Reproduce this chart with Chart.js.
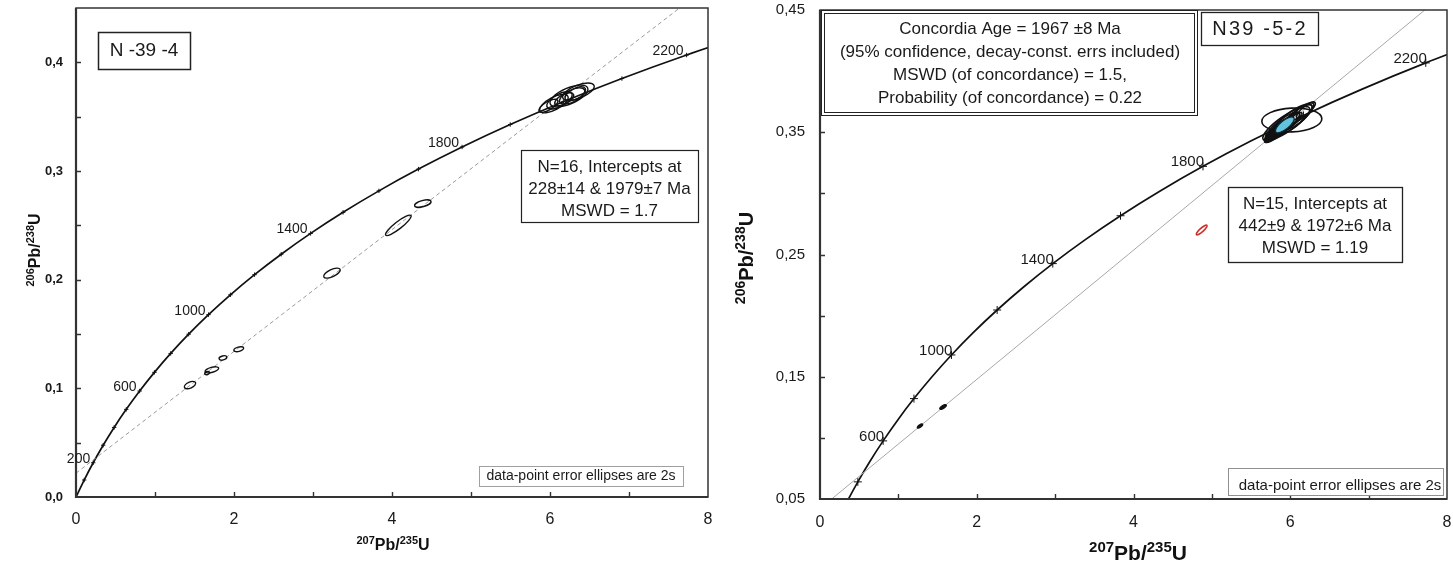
<!DOCTYPE html>
<html>
<head>
<meta charset="utf-8">
<script src="https://cdn.jsdelivr.net/npm/chart.js@4.4.1/dist/chart.umd.min.js"></script>
<style>
  html, body { margin: 0; padding: 0; background: #fff; }
  #wrap { position: relative; width: 1453px; height: 563px; overflow: hidden; }
  #c1 { position: absolute; left: 0; top: 0; }
  #c2 { position: absolute; left: 720px; top: 0; }
</style>
</head>
<body>
<div id="wrap">
  <canvas id="c1" width="720" height="563"></canvas>
  <canvas id="c2" width="733" height="563"></canvas>
</div>
<script>
// ---- Concordia (207Pb/235U, 206Pb/238U) every 100 Ma ----
const concordiaAge = [0, 100, 200, 300, 400, 500, 600, 700, 800, 900, 1000, 1100,
  1200, 1300, 1400, 1500, 1600, 1700, 1800, 1900, 2000, 2100, 2200, 2300];
const concordiaX = [0, 0.1035, 0.2177, 0.3437, 0.4828, 0.6363, 0.8056, 0.9925, 1.1987,
  1.4263, 1.6774, 1.9545, 2.2603, 2.5977, 2.9701, 3.3810, 3.8344, 4.3348, 4.8869,
  5.4962, 6.1685, 6.9105, 7.7292, 8.6326];
const concordiaY = [0, 0.01563, 0.03151, 0.04764, 0.06402, 0.08065, 0.09754, 0.11470,
  0.13213, 0.14983, 0.16781, 0.18606, 0.20460, 0.22343, 0.24256, 0.26198, 0.28171,
  0.30175, 0.32210, 0.34277, 0.36376, 0.38508, 0.40673, 0.42872];

// age marks and labelled ages on each panel
const leftMarkAges = [100, 200, 300, 400, 500, 600, 700, 800, 900, 1000, 1100, 1200,
  1300, 1400, 1500, 1600, 1700, 1800, 1900, 2000, 2100, 2200];
const leftLabelAges = [200, 600, 1000, 1400, 1800, 2200];
const rightMarkAges = [400, 600, 800, 1000, 1200, 1400, 1600, 1800, 2000, 2200];
const rightLabelAges = [600, 1000, 1400, 1800, 2200];

// ---- Discordia lines (end points) ----
const leftDiscordiaX = [0, 7.64];
const leftDiscordiaY = [0.0219, 0.45];
const rightDiscordiaX = [0.149, 7.717];
const rightDiscordiaY = [0.05, 0.45];

// ---- Sample N-39-4 analyses: centre, 2s errors, error correlation ----
const leftX   = [1.443, 1.66, 1.72, 1.86, 2.06, 3.24, 4.08, 4.39,
                 5.98, 6.05, 6.12, 6.18, 6.24, 6.28, 6.32, 6.36];
const leftY   = [0.103, 0.114, 0.117, 0.128, 0.136, 0.206, 0.250, 0.270,
                 0.360, 0.362, 0.365, 0.366, 0.369, 0.369, 0.371, 0.373];
const leftSX  = [0.071, 0.030, 0.086, 0.049, 0.062, 0.105, 0.162, 0.104,
                 0.12, 0.18, 0.16, 0.12, 0.24, 0.16, 0.13, 0.20];
const leftSY  = [0.0034, 0.0015, 0.0028, 0.0020, 0.0023, 0.0046, 0.0094, 0.0034,
                 0.0060, 0.0085, 0.0080, 0.0060, 0.0100, 0.0075, 0.0065, 0.0080];
const leftRho = [0.50, 0.30, 0.52, 0.35, 0.42, 0.64, 0.90, 0.53,
                 0.70, 0.65, 0.62, 0.60, 0.62, 0.60, 0.58, 0.60];

// ---- Sample N39-5-2 analyses ----
const rightX   = [6.02, 5.95, 6.02, 5.90, 6.08, 6.15, 5.98, 6.05, 6.20];
const rightY   = [0.360, 0.357, 0.360, 0.355, 0.362, 0.366, 0.358, 0.360, 0.368];
const rightSX  = [0.383, 0.30, 0.26, 0.22, 0.20, 0.15, 0.14, 0.10, 0.12];
const rightSY  = [0.0098, 0.0140, 0.0130, 0.0115, 0.0105, 0.0082, 0.0080, 0.0062, 0.0068];
const rightRho = [0.10, 0.84, 0.82, 0.84, 0.82, 0.80, 0.84, 0.80, 0.80];
// small, densely drawn analyses
const rightDarkX   = [1.276, 1.57, 5.85, 5.80, 5.75];
const rightDarkY   = [0.1097, 0.1253, 0.352, 0.350, 0.347];
const rightDarkSX  = [0.035, 0.042, 0.18, 0.12, 0.08];
const rightDarkSY  = [0.0017, 0.0020, 0.0105, 0.0075, 0.0055];
const rightDarkRho = [0.70, 0.70, 0.85, 0.84, 0.82];
// analysis left out of the regression
const rejectedX = [4.87], rejectedY = [0.270], rejectedSX = [0.068], rejectedSY = [0.0040], rejectedRho = [0.875];
// concordia age ellipse
const meanX = [5.93], meanY = [0.356], meanSX = [0.12], meanSY = [0.0065], meanRho = [0.75];

const FAM = '"Liberation Sans", Arial, Helvetica, sans-serif';
Chart.defaults.font.family = FAM;

function pts(xs, ys) { return xs.map((x, i) => ({ x: x, y: ys[i] })); }
function agePts(list) {
  return list.map(a => { const i = concordiaAge.indexOf(a); return { x: concordiaX[i], y: concordiaY[i], age: a }; });
}
function ellipses(xs, ys, sxs, sys, rhos) {
  return xs.map((x, i) => ({ x: x, y: ys[i], sx: sxs[i], sy: sys[i], rho: rhos[i] }));
}

// draw an error ellipse, converting data-space covariance to pixel space
function drawEllipse(ctx, xs, ys, e, style) {
  const px = xs.getPixelForValue(e.x), py = ys.getPixelForValue(e.y);
  const kx = xs.getPixelForValue(1) - xs.getPixelForValue(0);
  const ky = ys.getPixelForValue(1) - ys.getPixelForValue(0);
  const cxx = Math.pow(e.sx * kx, 2), cyy = Math.pow(e.sy * ky, 2);
  const cxy = e.rho * e.sx * e.sy * kx * ky;
  const m = (cxx + cyy) / 2, d = Math.sqrt(Math.pow((cxx - cyy) / 2, 2) + cxy * cxy);
  const a = Math.sqrt(m + d), b = Math.sqrt(Math.max(m - d, 0.2));
  const th = 0.5 * Math.atan2(2 * cxy, cxx - cyy);
  ctx.beginPath();
  ctx.ellipse(px, py, a, b, th, 0, Math.PI * 2);
  if (style.fill) { ctx.fillStyle = style.fill; ctx.fill(); }
  ctx.lineWidth = style.width || 1.3;
  ctx.strokeStyle = style.stroke || '#111';
  ctx.stroke();
}

// text with superscript pieces
function richText(ctx, parts, x, y, size, supSize) {
  let w = 0;
  parts.forEach(p => {
    ctx.font = 'bold ' + (p.sup ? supSize : size) + 'px ' + FAM;
    p.w = ctx.measureText(p.t).width; w += p.w;
  });
  let cx = x - w / 2;
  ctx.textAlign = 'left';
  ctx.textBaseline = 'alphabetic';
  parts.forEach(p => {
    ctx.font = 'bold ' + (p.sup ? supSize : size) + 'px ' + FAM;
    ctx.fillText(p.t, cx, p.sup ? y - size * 0.38 : y);
    cx += p.w;
  });
}

function box(ctx, b) {
  ctx.save();
  ctx.fillStyle = '#fff';
  ctx.fillRect(b.x, b.y, b.w, b.h);
  ctx.strokeStyle = b.stroke || '#222';
  ctx.lineWidth = b.lw || 1.2;
  ctx.strokeRect(b.x + 0.5, b.y + 0.5, b.w, b.h);
  if (b.double) ctx.strokeRect(b.x + 3.5, b.y + 3.5, b.w - 6, b.h - 6);
  ctx.fillStyle = '#1a1a1a';
  ctx.font = b.font;
  ctx.textAlign = 'center';
  ctx.textBaseline = 'middle';
  if (b.spacing) ctx.letterSpacing = b.spacing;
  b.lines.forEach((t, i) => ctx.fillText(t, b.cx, b.ly[i]));
  ctx.restore();
}

function makePanel(id, cfg) {
  const overlay = {
    id: 'overlay' + id,
    afterDatasetsDraw(chart) {
      const ctx = chart.ctx, ca = chart.chartArea;
      const xs = chart.scales.x, ys = chart.scales.y;
      ctx.save();
      ctx.beginPath(); ctx.rect(ca.left, ca.top, ca.right - ca.left, ca.bottom - ca.top); ctx.clip();
      cfg.ellipseGroups.forEach(g => g.items.forEach(e => drawEllipse(ctx, xs, ys, e, g.style)));
      ctx.restore();
    },
    afterDraw(chart) {
      const ctx = chart.ctx, ca = chart.chartArea;
      const xs = chart.scales.x, ys = chart.scales.y;
      ctx.save();
      // frame
      ctx.strokeStyle = '#333';
      ctx.lineWidth = 1.5;
      ctx.strokeRect(ca.left, ca.top, ca.right - ca.left, ca.bottom - ca.top);
      ctx.lineWidth = 2.2;
      ctx.beginPath();
      ctx.moveTo(ca.left, ca.top); ctx.lineTo(ca.left, ca.bottom); ctx.lineTo(ca.right, ca.bottom);
      ctx.stroke();
      // inward tick marks
      ctx.lineWidth = 1.4;
      ctx.beginPath();
      xs.ticks.forEach(t => {
        const p = Math.round(xs.getPixelForValue(t.value)) + 0.5;
        if (p > ca.left + 2 && p < ca.right - 2) { ctx.moveTo(p, ca.bottom); ctx.lineTo(p, ca.bottom - 5); }
      });
      ys.ticks.forEach(t => {
        const p = Math.round(ys.getPixelForValue(t.value)) + 0.5;
        if (p > ca.top + 2 && p < ca.bottom - 2) { ctx.moveTo(ca.left, p); ctx.lineTo(ca.left + 5, p); }
      });
      ctx.stroke();
      // age labels along the concordia
      ctx.fillStyle = '#1a1a1a';
      ctx.font = cfg.ageFont;
      ctx.textAlign = 'right';
      ctx.textBaseline = 'middle';
      agePts(cfg.labelAges).forEach(p => {
        ctx.fillText(String(p.age), xs.getPixelForValue(p.x) + cfg.ageDx, ys.getPixelForValue(p.y) - 4);
      });
      // annotation boxes
      cfg.boxes.forEach(b => box(ctx, b));
      // axis titles
      ctx.fillStyle = '#111';
      richText(ctx, [{ t: '207', sup: true }, { t: 'Pb/' }, { t: '235', sup: true }, { t: 'U' }],
        cfg.xTitle.x, cfg.xTitle.y, cfg.xTitle.size, cfg.xTitle.sup);
      ctx.save();
      ctx.translate(cfg.yTitle.x, cfg.yTitle.y);
      ctx.rotate(-Math.PI / 2);
      richText(ctx, [{ t: '206', sup: true }, { t: 'Pb/' }, { t: '238', sup: true }, { t: 'U' }],
        0, 0, cfg.yTitle.size, cfg.yTitle.sup);
      ctx.restore();
      ctx.restore();
    }
  };

  // fixed scale sizes, no extra room reserved for overhanging edge labels
  function fixX(s) { s.height = cfg.xH; s.paddingLeft = 0; s.paddingRight = 0; s.paddingTop = 0; s.paddingBottom = 0; }
  function fixY(s) { s.width = cfg.yW; s.paddingLeft = 0; s.paddingRight = 0; s.paddingTop = 0; s.paddingBottom = 0; }

  return new Chart(document.getElementById(id), {
    type: 'line',
    data: {
      datasets: [
        { data: pts(cfg.discX, cfg.discY), borderColor: cfg.discColor, borderWidth: 1,
          borderDash: cfg.discDash, pointRadius: 0 },
        { data: pts(concordiaX, concordiaY), borderColor: '#111', borderWidth: 1.7,
          pointRadius: 0, cubicInterpolationMode: 'monotone' },
        { data: agePts(cfg.markAges), showLine: false, pointStyle: 'cross',
          pointRadius: cfg.markR, borderColor: '#111', borderWidth: 1, pointBorderWidth: 1 }
      ]
    },
    options: {
      responsive: false, animation: false, devicePixelRatio: 1,
      layout: { padding: { left: 0, right: cfg.padR, top: cfg.padT, bottom: 0 }, autoPadding: false },
      plugins: { legend: { display: false }, tooltip: { enabled: false } },
      scales: {
        x: {
          type: 'linear', min: 0, max: 8,
          afterFit: fixX,
          grid: { display: false, drawTicks: false }, border: { display: false },
          ticks: { stepSize: 1, autoSkip: false, maxRotation: 0, padding: cfg.xPad,
                   color: '#1a1a1a', font: { size: 16 },
                   callback: v => (Math.round(v) % 2 === 0 ? String(Math.round(v)) : '') }
        },
        y: {
          type: 'linear', min: cfg.yMin, max: 0.45,
          afterFit: fixY,
          grid: { display: false, drawTicks: false }, border: { display: false },
          ticks: { stepSize: 0.05, autoSkip: false, padding: cfg.yPad, color: '#1a1a1a',
                   font: cfg.yFont, callback: cfg.yLabel }
        }
      }
    },
    plugins: [overlay]
  });
}

// ---- Panel N-39-4 ----
makePanel('c1', {
  padR: 12, padT: 8, xH: 66, yW: 76, yMin: 0, xPad: 13, yPad: 13,
  yFont: { size: 13, weight: 'bold' },
  yLabel: v => { const k = Math.round(v * 100); return k % 10 === 0 && k < 45 ? (k / 100).toFixed(1).replace('.', ',') : ''; },
  discX: leftDiscordiaX, discY: leftDiscordiaY, discColor: '#9a9a9a', discDash: [4, 3],
  markAges: leftMarkAges, markR: 2.2, labelAges: leftLabelAges,
  ageFont: '14px ' + FAM, ageDx: -3,
  ellipseGroups: [
    { items: ellipses(leftX, leftY, leftSX, leftSY, leftRho), style: { stroke: '#111', width: 1.4 } }
  ],
  boxes: [
    { x: 98, y: 32, w: 92, h: 37, lw: 1.5, font: '19px ' + FAM, cx: 144, ly: [51], lines: ['N -39 -4'] },
    { x: 521, y: 150, w: 177, h: 72, lw: 1.2, font: '17px ' + FAM, cx: 609.5, ly: [167, 189, 211],
      lines: ['N=16, Intercepts at', '228\u00b114 & 1979\u00b17 Ma', 'MSWD = 1.7'] },
    { x: 479, y: 466, w: 204, h: 20, lw: 1, stroke: '#a0a0a0', font: '14px ' + FAM, cx: 581, ly: [476],
      lines: ['data-point error ellipses are 2s'] }
  ],
  xTitle: { x: 393, y: 550, size: 16, sup: 11 },
  yTitle: { x: 40, y: 250, size: 16, sup: 11 }
});

// ---- Panel N39-5-2 ----
makePanel('c2', {
  padR: 6, padT: 10, xH: 64, yW: 100, yMin: 0.05, xPad: 14, yPad: 15,
  yFont: { size: 15 },
  yLabel: v => { const k = Math.round(v * 100); return k % 10 === 5 ? (k / 100).toFixed(2).replace('.', ',') : ''; },
  discX: rightDiscordiaX, discY: rightDiscordiaY, discColor: '#a8a8a8', discDash: [],
  markAges: rightMarkAges, markR: 4, labelAges: rightLabelAges,
  ageFont: '15px ' + FAM, ageDx: 1,
  ellipseGroups: [
    { items: ellipses(rightX, rightY, rightSX, rightSY, rightRho), style: { stroke: '#111', width: 1.6 } },
    { items: ellipses(rightDarkX, rightDarkY, rightDarkSX, rightDarkSY, rightDarkRho),
      style: { stroke: '#111', fill: '#111', width: 1.2 } },
    { items: ellipses(meanX, meanY, meanSX, meanSY, meanRho), style: { stroke: '#123', fill: '#62c3dc', width: 1.2 } },
    { items: ellipses(rejectedX, rejectedY, rejectedSX, rejectedSY, rejectedRho), style: { stroke: '#cc2f2a', width: 1.6 } }
  ],
  boxes: [
    { x: 101, y: 10, w: 376, h: 105, lw: 1, double: true, font: '17px ' + FAM, cx: 290, ly: [29, 52, 75, 98],
      lines: ['Concordia Age = 1967 \u00b18 Ma', '(95% confidence, decay-const. errs included)',
              'MSWD (of concordance) = 1.5,', 'Probability (of concordance) = 0.22'] },
    { x: 481, y: 12, w: 117, h: 33, lw: 1.3, font: '20px ' + FAM, cx: 540, ly: [29], spacing: '2.2px',
      lines: ['N39 -5-2'] },
    { x: 508, y: 187, w: 174, h: 75, lw: 1.3, font: '17px ' + FAM, cx: 595, ly: [204, 226, 248],
      lines: ['N=15, Intercepts at', '442\u00b19 & 1972\u00b16 Ma', 'MSWD = 1.19'] },
    { x: 508, y: 468, w: 215, h: 27, lw: 1, stroke: '#909090', font: '15px ' + FAM, cx: 620, ly: [486],
      lines: ['data-point error ellipses are 2s'] }
  ],
  xTitle: { x: 418, y: 560, size: 21, sup: 15 },
  yTitle: { x: 33, y: 258, size: 20, sup: 14 }
});
</script>
</body>
</html>
